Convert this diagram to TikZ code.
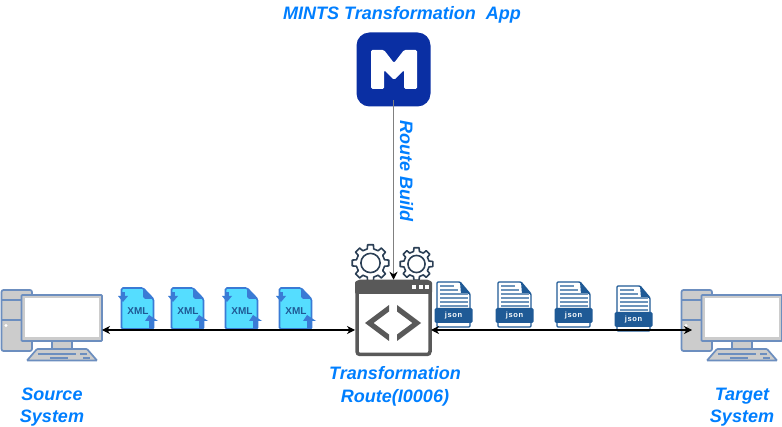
\documentclass[tikz,border=0pt]{standalone}
\usepackage{fontspec}
\setmainfont{Liberation Sans}
\usetikzlibrary{arrows.meta}
\definecolor{appblue}{HTML}{0A2FA3}
\definecolor{labelblue}{HTML}{007FFF}
\definecolor{pcedge}{HTML}{6C8EBF}
\definecolor{pcgrey}{HTML}{CCCCCC}
\definecolor{xmlfill}{HTML}{55DDFF}
\definecolor{xmledge}{HTML}{3A7BD5}
\definecolor{jsonblue}{HTML}{1F5A96}
\definecolor{routegrey}{HTML}{595959}
\definecolor{gearedge}{HTML}{2B3F55}
\tikzset{
  label text/.style={text=labelblue,font=\fontsize{18}{22.5}\selectfont\bfseries\itshape,align=center},
  link/.style={black,line width=1.1pt,{Stealth[length=8pt,width=8pt,inset=2.5pt]}-{Stealth[length=8pt,width=8pt,inset=2.5pt]}},
  build link/.style={gray,line width=1.9pt,-{Stealth[length=8pt,width=8pt,inset=2.5pt,black]}},
  pc part/.style={draw=pcedge,fill=pcgrey,line width=1.7pt,rounded corners=0.8pt},
  pc/.pic={
    \draw[pc part,rounded corners=2pt] (1.5,290) rectangle (32,351);
    \draw[pcedge,line width=1.7pt] (1.5,300)--(21,300);
    \draw[pcedge,line width=1.7pt] (1.5,320)--(21,320);
    \fill[white] (6,325.5) circle (1.7);
    \draw[pc part] (52,340)--(72,340)--(72,350)--(52,350)--cycle;
    \draw[pc part] (21.5,295)--(102,295)--(102,341)--(21.5,341)--cycle;
    \fill[white] (25,298.5) rectangle (98.5,337.5);
    \draw[pc part] (37,349)--(87,349)--(97,360.5)--(27,360.5)--cycle;
    \draw[pcedge,line width=1.9pt] (38,354)--(76,354);
    \draw[pcedge,line width=1.9pt] (80,354)--(87,354);
    \draw[pcedge,line width=1.9pt] (50,358)--(68,358);
    \draw[pcedge,line width=1.9pt] (83,358)--(90,358);
  },
  xmlfile/.pic={
    \draw[draw=xmledge,fill=xmlfill,line width=1.6pt,rounded corners=1.5pt] (0.5,0)--(22,0)--(32.5,11)--(32.5,41)--(0.5,41)--cycle;
    \fill[xmledge] (22,0)--(32.5,11)--(24,11)--(22,9)--cycle;
    \fill[xmledge] (-3,8)--(7,8)--(2,14)--cycle;
    \fill[xmledge] (0.5,4)--(4,4)--(4,9)--(0.5,9)--cycle;
    \fill[xmledge] (28,27)--(37,33)--(32.5,33)--(32.5,41)--(28,41)--(28,33)--(24,33)--cycle;
    \node[text=jsonblue,font=\fontsize{10}{10}\selectfont\bfseries] (-xmltag) at (17,23) {XML};
  },
  jsonfile/.pic={
    \draw[draw=jsonblue,fill=white,line width=1.4pt,rounded corners=1pt] (1,0)--(24,0)--(34,12)--(34,45)--(1,45)--cycle;
    \fill[jsonblue] (24,0)--(34,12)--(25,12)--cycle;
    \foreach \ly/\lx in {4/18,8/22,12/32,16/32,20/32,24/32}
      \draw[jsonblue!65,line width=1.6pt] (4,\ly)--(\lx,\ly);
    \node[fill=jsonblue,text=white,rounded corners=1.5pt,minimum width=38pt,minimum height=15pt,inner sep=0pt,font=\fontsize{7.5}{8}\selectfont\bfseries\addfontfeatures{LetterSpace=8}] (-jsontag) at (17.5,33.5) {json};
  },
  gear/.pic={
    \draw[draw=gearedge,fill=white,line width=1.6pt,line join=round] (-13:0.78*\gearsize)
      \foreach \ga in {0,45,...,315}{ --(\ga-13:0.78*\gearsize)--(\ga-9:\gearsize)--(\ga+9:\gearsize)--(\ga+13:0.78*\gearsize)} --cycle;
    \draw[gearedge,line width=1.6pt] (0,0) circle (0.52*\gearsize);
  },
}
\newcommand{\gearsize}{18.5}
\begin{document}
\begin{tikzpicture}[x=1pt,y=-1pt]
  \useasboundingbox (0,0) rectangle (782,427);
  \fill[white] (0,0) rectangle (782,427);
  % transformation app
  \node[fill=appblue,rounded corners=13pt,minimum size=74pt,inner sep=0pt] (app) at (393.5,69.5) {};
  \fill[white,rounded corners=1.5pt] (371,50)--(384,50)--(394,63)--(404,50)--(417,50)--(417,89)--(404,89)--(404,70)--(394,80)--(384,70)--(384,89)--(371,89)--cycle;
  % route box
  \pic at (370.5,263) {gear};
  \renewcommand{\gearsize}{16.5}
  \pic at (416.5,264) {gear};
  \node[draw=routegrey,fill=white,line width=3.5pt,rounded corners=3pt,minimum size=73pt,inner sep=0pt] (route) at (393.5,318) {};
  \fill[routegrey,rounded corners=2pt] (355,281) rectangle (432,294);
  \foreach \dotx in {414,421,427}
    \fill[white] (\dotx-1.8,285) rectangle (\dotx+1.8,289);
  \fill[routegrey] (389,305)--(365,323)--(389,341)--(389,334.5)--(373.5,323)--(389,311.5)--cycle;
  \fill[routegrey] (397,305)--(421,323)--(397,341)--(397,334.5)--(412.5,323)--(397,311.5)--cycle;
  % systems
  \pic at (0,0) {pc};
  \pic at (680,0) {pc};
  \coordinate (srcport) at (102,330);
  \coordinate (tgtport) at (692,330);
  \coordinate (routeleft) at (355,330);
  \coordinate (routeright) at (431,330);
  \coordinate (buildstart) at (393.5,100);
  % files
  \foreach \fx/\fname in {121/xmla,171/xmlb,225/xmlc,279/xmld}
    \pic (\fname) at (\fx,288) {xmlfile};
  \pic (jsona) at (436,282) {jsonfile};
  \pic (jsonb) at (497,282) {jsonfile};
  \pic (jsonc) at (556,282) {jsonfile};
  \pic (jsond) at (616,286) {jsonfile};
  % connectors
  \draw[link] (srcport)--(routeleft);
  \draw[link] (routeright)--(tgtport);
  \draw[build link] (buildstart)--(route.north);
  % labels
  \node[label text] (apptitle) at (402,14.5) {MINTS Transformation\ \ App};
  \node[label text,rotate=-90] (buildlabel) at (406.5,171) {Route Build};
  \node[label text] (srclabel) at (52,407) {Source\\System};
  \node[label text] (routelabel) at (395,386.5) {Transformation\\Route(I0006)};
  \node[label text] (tgtlabel) at (742,407) {Target\\System};
\end{tikzpicture}
\end{document}
